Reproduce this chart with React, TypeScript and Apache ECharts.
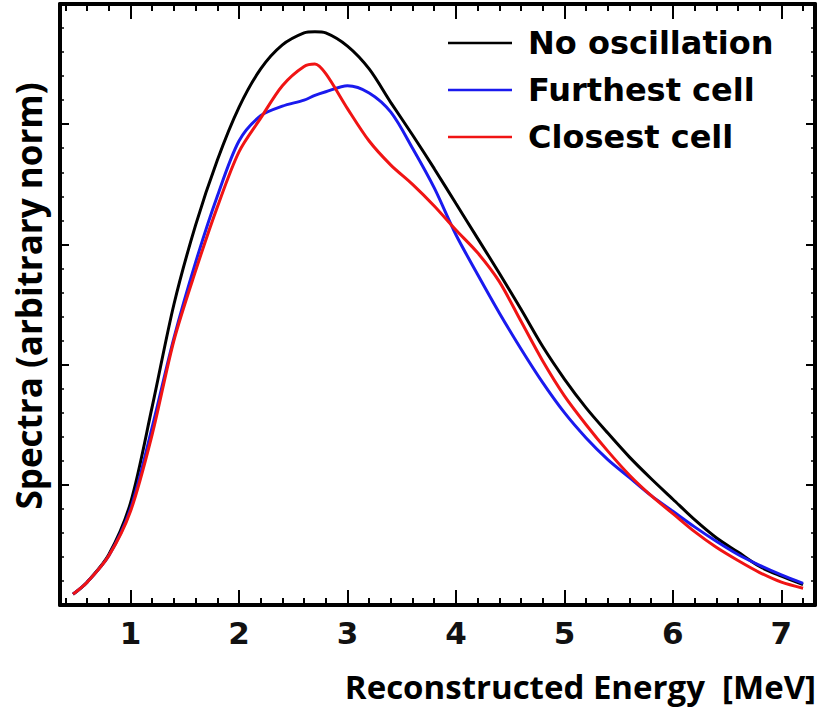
import React, { useEffect, useRef } from "react";
import * as echarts from "echarts";

const energy = [0.47, 0.6, 0.8, 1.0, 1.2, 1.4, 1.6, 1.8, 2.0, 2.2, 2.4, 2.6, 2.7, 2.8, 3.0, 3.2, 3.4, 3.6, 3.8, 4.0, 4.2, 4.4, 4.6, 4.8, 5.0, 5.2, 5.4, 5.6, 5.8, 6.0, 6.2, 6.4, 6.6, 6.8, 7.0, 7.2];

const noOscillation = [0.09, 0.19, 0.42, 0.85, 1.65, 2.5, 3.16, 3.7, 4.14, 4.46, 4.66, 4.76, 4.77, 4.76, 4.65, 4.46, 4.18, 3.91, 3.63, 3.34, 3.05, 2.76, 2.46, 2.15, 1.88, 1.64, 1.43, 1.23, 1.05, 0.88, 0.71, 0.56, 0.44, 0.32, 0.24, 0.17];
const furthestCell = [0.09, 0.19, 0.41, 0.8, 1.48, 2.22, 2.85, 3.4, 3.86, 4.07, 4.15, 4.2, 4.24, 4.27, 4.32, 4.26, 4.1, 3.8, 3.47, 3.08, 2.75, 2.43, 2.13, 1.85, 1.6, 1.39, 1.21, 1.06, 0.91, 0.78, 0.65, 0.53, 0.42, 0.33, 0.25, 0.18];
const closestCell = [0.09, 0.19, 0.41, 0.78, 1.42, 2.2, 2.78, 3.31, 3.77, 4.05, 4.32, 4.48, 4.5, 4.42, 4.13, 3.86, 3.66, 3.5, 3.32, 3.12, 2.93, 2.69, 2.36, 2.03, 1.74, 1.5, 1.28, 1.08, 0.91, 0.76, 0.61, 0.48, 0.37, 0.27, 0.19, 0.14];

const seriesNames = ["No oscillation", "Furthest cell", "Closest cell"];
const seriesColors = ["#000000", "#1a1aee", "#f01414"];
const majorTicks = [1, 2, 3, 4, 5, 6, 7];
const minorTicks = [0.4, 0.6, 0.8, 1.2, 1.4, 1.6, 1.8, 2.2, 2.4, 2.6, 2.8, 3.2, 3.4, 3.6, 3.8, 4.2, 4.4, 4.6, 4.8, 5.2, 5.4, 5.6, 5.8, 6.2, 6.4, 6.6, 6.8, 7.2];
const xTitle = "Reconstructed Energy  [MeV]";
const yTitle = "Spectra (arbitrary norm)";

const X_MIN = 0.35;
const X_MAX = 7.31;

export default function App() {
  const ref = useRef<HTMLDivElement>(null);
  useEffect(() => {
    if (!ref.current) return;
    const chart = echarts.init(ref.current, undefined, { renderer: "svg" });
    const axisLine = { show: true, lineStyle: { color: "#000", width: 4 } };
    const mkX = (pos: string, ticks: number[], len: number, line: boolean, labels: boolean) => ({
      type: "value",
      position: pos,
      min: X_MIN,
      max: X_MAX,
      axisLine: line ? axisLine : { show: false },
      axisTick: { show: true, inside: true, length: len, customValues: ticks, lineStyle: { color: "#000", width: 2 } },
      axisLabel: labels
        ? { show: true, customValues: majorTicks, fontFamily: "DejaVu Sans", fontWeight: "bold", fontSize: 31, color: "#111", margin: 12 }
        : { show: false },
      splitLine: { show: false },
    });
    const mkY = (pos: string) => ({
      type: "value",
      position: pos,
      min: 0,
      max: 5,
      interval: 1,
      axisLine,
      axisTick: { show: true, inside: true, length: 9, lineStyle: { color: "#000", width: 2 } },
      minorTick: { show: true, splitNumber: 5, length: 4, lineStyle: { color: "#000", width: 1.5 } },
      axisLabel: { show: false },
      splitLine: { show: false },
      minorSplitLine: { show: false },
    });
    const datasets = [noOscillation, furthestCell, closestCell];
    chart.setOption({
      animation: false,
      backgroundColor: "#fff",
      grid: { left: 60, right: 5, top: 4, bottom: 112, containLabel: false },
      xAxis: [
        mkX("bottom", majorTicks, 15, true, true),
        mkX("bottom", minorTicks, 7, false, false),
        mkX("top", majorTicks, 15, true, false),
        mkX("top", minorTicks, 7, false, false),
      ],
      yAxis: [mkY("left"), mkY("right")],
      legend: {
        orient: "vertical",
        left: 448,
        top: 27,
        padding: 0,
        itemWidth: 64,
        itemHeight: 2.5,
        itemGap: 15,
        icon: "rect",
        data: seriesNames,
        textStyle: { fontFamily: "DejaVu Sans", fontWeight: "bold", fontSize: 32, color: "#000", lineHeight: 32, padding: [0, 0, 0, 11] },
      },
      graphic: [
        {
          type: "text",
          right: 4,
          top: 670,
          style: { text: xTitle, fontFamily: "Open Sans", fontWeight: "bold", fontSize: 33, fill: "#000" },
        },
        {
          type: "text",
          x: 28,
          y: 296,
          rotation: Math.PI / 2,
          style: { text: yTitle, fontFamily: "Open Sans", fontWeight: "bold", fontSize: 35, fill: "#000", align: "center", verticalAlign: "middle" },
        },
      ],
      series: seriesNames.map((name, i) => ({
        name,
        type: "line",
        xAxisIndex: 0,
        yAxisIndex: 0,
        smooth: 0.3,
        showSymbol: false,
        symbol: "none",
        color: seriesColors[i],
        lineStyle: { color: seriesColors[i], width: 3 },
        data: energy.map((e, j) => [e, datasets[i][j]]),
      })),
    });
    return () => chart.dispose();
  }, []);
  return <div ref={ref} style={{ position: "fixed", left: 0, top: 0, width: 820, height: 717 }} />;
}
